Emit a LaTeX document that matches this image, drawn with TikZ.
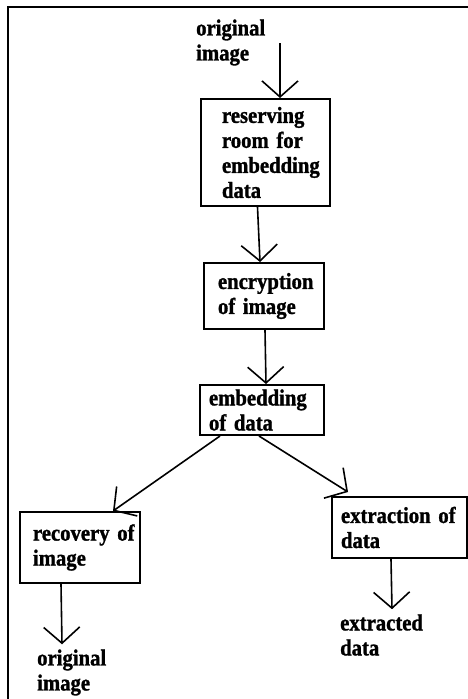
\documentclass[tikz,border=0pt]{standalone}
\usepackage{fontspec}
\setmainfont{Liberation Serif}[FakeStretch=0.9,FakeBold=1.2]
\usetikzlibrary{arrows.meta}
\newcommand\stagefont{\fontsize{23}{25}\selectfont\bfseries}
\begin{document}
\begin{tikzpicture}[x=1pt,y=-1pt,
  every node/.style={font=\stagefont},
  stage/.style={draw,line width=2pt,align=left,inner ysep=0pt},
  tag/.style={align=left,inner sep=0pt,anchor=west},
  flow/.style={line width=1.6pt,-{Straight Barb[length=16pt,width=36pt]}}]
  \useasboundingbox (0,0) rectangle (467,699);
  % frame
  \draw[line width=2.4pt] (8,720) -- (8,7) -- (490,7);
  % blocks
  \node[tag] (src) at (196,42.5) {original\\image};
  \node[stage,inner xsep=21pt,text width=87pt,minimum height=107pt] (room) at (265.5,152.5) {reserving\\room for\\embedding\\data};
  \node[stage,inner xsep=14pt,text width=92pt,minimum height=66pt] (enc) at (264,296) {encryption\\of image};
  \node[stage,inner xsep=9pt,text width=106pt,minimum height=50pt] (emb) at (262,410) {embedding\\of data};
  \node[stage,inner xsep=13pt,text width=94pt,minimum height=71pt] (rec) at (80,547.5) {recovery~of\\image};
  \node[stage,inner xsep=9pt,text width=117pt,minimum height=61pt] (ext) at (399.5,527.5) {extraction~of\\data};
  \node[tag] (orig) at (37,672.5) {original\\image};
  \node[tag] (got) at (340,635) {extracted\\data};
  % arrows
  \coordinate (in) at (280,43);
  \draw[flow] (in) -- (in |- room.north);
  \draw[flow] ([xshift=-8pt]room.south) -- ([xshift=-4pt]enc.north);
  \draw[flow] ([xshift=1pt]enc.south) -- ([xshift=4pt]emb.north);
  \draw[flow] ([xshift=-42pt]emb.south) -- ([xshift=33pt]rec.north);
  \draw[flow] ([xshift=-3pt]emb.south) -- ([xshift=17pt,yshift=4pt]ext.north west);
  \draw[flow] ([xshift=42pt]rec.south west) -- ([xshift=25pt,yshift=5pt]orig.north west);
  \draw[flow] ([xshift=60pt]ext.south west) -- ([xshift=52pt,yshift=5pt]got.north west);
\end{tikzpicture}
\end{document}
